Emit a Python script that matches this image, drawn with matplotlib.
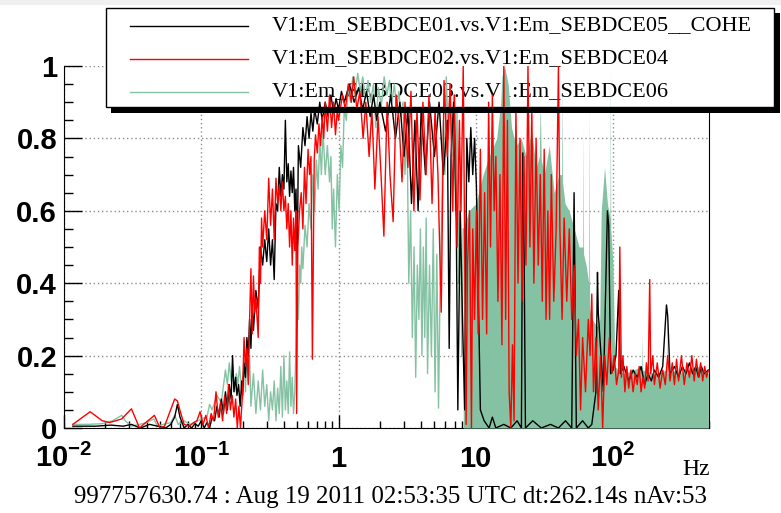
import matplotlib
matplotlib.use("Agg")
import matplotlib.pyplot as plt
import matplotlib.transforms as mtransforms
from matplotlib.patches import Rectangle
from matplotlib.lines import Line2D
from matplotlib.ticker import MultipleLocator, LogLocator, NullFormatter

plt.rcParams['mathtext.fontset'] = 'custom'
plt.rcParams['mathtext.rm'] = 'Liberation Sans:bold'
plt.rcParams['mathtext.bf'] = 'Liberation Sans:bold'
plt.rcParams['mathtext.it'] = 'Liberation Sans:bold'

# coherence E01 vs E05 (black)
black_f = [0.0116, 0.017, 0.022, 0.027, 0.031, 0.036, 0.042, 0.048, 0.055, 0.06,
           0.064, 0.067, 0.07, 0.075, 0.08, 0.085, 0.09, 0.095, 0.1, 0.105,
           0.11, 0.115, 0.12, 0.125, 0.13, 0.135, 0.14, 0.145, 0.15, 0.155,
           0.16, 0.165, 0.169, 0.173, 0.178, 0.182, 0.187, 0.192, 0.197, 0.2,
           0.205, 0.21, 0.215, 0.22, 0.225, 0.23, 0.235, 0.24, 0.25, 0.26,
           0.27, 0.28, 0.29, 0.3, 0.31, 0.32, 0.33, 0.34, 0.35, 0.36,
           0.37, 0.38, 0.39, 0.4, 0.41, 0.42, 0.43, 0.44, 0.45, 0.46,
           0.47, 0.48, 0.49, 0.5, 0.51, 0.53, 0.55, 0.57, 0.59, 0.61,
           0.63, 0.65, 0.67, 0.7, 0.73, 0.76, 0.8, 0.84, 0.88, 0.92,
           0.96, 1.0, 1.05, 1.1, 1.2, 1.3, 1.4, 1.5, 1.6, 1.7,
           1.8, 1.9, 2.0, 2.2, 2.4, 2.6, 2.8, 3.0, 3.2, 3.4,
           3.6, 3.8, 4.0, 4.3, 4.6, 5.0, 5.4, 5.8, 6.2, 6.4,
           6.6, 6.9, 7.2, 7.4, 7.7, 8.0, 8.3, 8.6, 8.9, 9.2,
           9.5, 9.8, 10.1, 10.4, 10.8, 11.5, 12.5, 13.2, 14, 16,
           18, 20, 21.5, 22, 22.5, 23, 26, 30, 35, 40,
           45, 50, 52, 53, 54, 60, 66, 70, 75, 77,
           78, 85, 91, 93, 96, 100, 105, 110, 113, 120,
           130, 140, 150, 160, 170, 180, 190, 200, 215, 230,
           245, 250, 260, 280, 300, 320, 340, 360, 380, 400,
           420, 440, 460, 495]
black_c = [0.005, 0.005, 0.008, 0.005, 0.01, 0.0, 0.01, 0.005, 0.0, 0.01,
           0.03, 0.065, 0.03, 0.0, 0.01, 0.0, 0.012, 0.005, 0.02, 0.0,
           0.015, 0.0, 0.03, 0.02, 0.06, 0.03, 0.08, 0.04, 0.1, 0.05,
           0.12, 0.08, 0.2, 0.1, 0.14, 0.09, 0.12, 0.06, 0.13, 0.09,
           0.18, 0.14, 0.25, 0.2, 0.3, 0.22, 0.34, 0.27, 0.38, 0.33,
           0.5, 0.45, 0.52, 0.46, 0.55, 0.45, 0.52, 0.41, 0.62, 0.6,
           0.72, 0.64, 0.7, 0.66, 0.85, 0.68, 0.73, 0.64, 0.71, 0.65,
           0.72, 0.6, 0.66, 0.45, 0.78, 0.72, 0.83, 0.78, 0.86, 0.8,
           0.87, 0.82, 0.88, 0.84, 0.9, 0.85, 0.9, 0.86, 0.92, 0.87,
           0.91, 0.88, 0.93, 0.9, 0.95, 0.9, 0.94, 0.88, 0.93, 0.86,
           0.92, 0.85, 0.9, 0.82, 0.92, 0.8, 0.9, 0.75, 0.88, 0.62,
           0.85, 0.6, 0.88, 0.7, 0.9, 0.75, 0.9, 0.7, 0.85, 0.22,
           0.75, 0.9, 0.58, 0.05, 0.6, 0.3, 0.05, 0.8, 0.68, 0.83,
           0.7, 0.8, 0.67, 0.4, 0.05, 0.02, 0.0, 0.03, 0.0, 0.01,
           0.0, 0.02, 0.0, 0.76, 0.47, 0.0, 0.02, 0.0, 0.01, 0.0,
           0.02, 0.0, 0.65, 0.33, 0.0, 0.02, 0.0, 0.01, 0.1, 0.43,
           0.32, 0.1, 0.6, 0.56, 0.15, 0.16, 0.2, 0.38, 0.15, 0.17,
           0.13, 0.16, 0.14, 0.17, 0.12, 0.15, 0.13, 0.16, 0.14, 0.17,
           0.34, 0.31, 0.15, 0.17, 0.14, 0.17, 0.15, 0.18, 0.15, 0.17,
           0.14, 0.17, 0.15, 0.16]

# coherence E02 vs E04 (red)
red_f = [0.0116, 0.0155, 0.019, 0.0215, 0.0263, 0.031, 0.0355, 0.038, 0.0456, 0.05,
         0.054, 0.064, 0.067, 0.071, 0.075, 0.082, 0.088, 0.093, 0.098, 0.103,
         0.108, 0.113, 0.118, 0.123, 0.128, 0.133, 0.138, 0.143, 0.148, 0.153,
         0.158, 0.163, 0.168, 0.173, 0.178, 0.183, 0.188, 0.193, 0.2, 0.205,
         0.21, 0.215, 0.22, 0.225, 0.23, 0.235, 0.24, 0.245, 0.25, 0.26,
         0.265, 0.27, 0.275, 0.28, 0.29, 0.3, 0.31, 0.32, 0.33, 0.34,
         0.35, 0.36, 0.37, 0.38, 0.39, 0.4, 0.41, 0.42, 0.43, 0.44,
         0.45, 0.46, 0.47, 0.48, 0.49, 0.495, 0.505, 0.52, 0.535, 0.55,
         0.565, 0.58, 0.6, 0.615, 0.63, 0.645, 0.665, 0.68, 0.7, 0.72,
         0.74, 0.76, 0.78, 0.8, 0.83, 0.86, 0.89, 0.92, 0.95, 0.98,
         1.0, 1.07, 1.12, 1.18, 1.24, 1.29, 1.36, 1.43, 1.51, 1.58,
         1.67, 1.75, 1.84, 1.94, 2.04, 2.14, 2.26, 2.37, 2.5, 2.63,
         2.76, 2.9, 3.05, 3.2, 3.37, 3.54, 3.73, 3.92, 4.12, 4.34,
         4.56, 4.8, 5.05, 5.3, 5.6, 5.87, 6.2, 6.5, 6.8, 7.0,
         7.3, 7.6, 7.8, 8.1, 8.3, 8.5, 8.7, 9.0, 9.3, 9.5,
         9.8, 10.1, 10.4, 10.8, 11.2, 11.6, 12.0, 12.4, 12.8, 13.2,
         13.6, 14.0, 14.5, 15.0, 15.5, 16.0, 16.5, 17.0, 17.5, 18.0,
         18.5, 19.0, 19.6, 20.3, 21.0, 21.7, 22.4, 23.2, 24.0, 24.8,
         25.6, 26.5, 27.5, 28.5, 29.5, 30.5, 31.5, 32.5, 33.5, 34.5,
         35.5, 37, 38.5, 40, 41, 42.5, 44, 46, 48, 50,
         52, 54, 56, 58, 60, 63, 66, 68, 70, 72,
         75, 78, 81, 84, 87, 90, 94, 98, 102, 106,
         110, 112, 115, 118, 122, 126, 130, 135, 140, 145,
         150, 155, 160, 165, 170, 175, 180, 185, 188, 195,
         200, 210, 220, 230, 240, 250, 260, 270, 280, 290,
         300, 315, 330, 345, 360, 375, 390, 405, 420, 435,
         450, 465, 480, 495]
red_c = [0.01, 0.045, 0.02, 0.015, 0.025, 0.053, 0.0, 0.01, 0.035, 0.0,
         0.005, 0.08, 0.075, 0.04, 0.01, 0.005, 0.015, 0.02, 0.045, 0.01,
         0.035, 0.0, 0.04, 0.02, 0.1, 0.03, 0.07, 0.02, 0.09, 0.04,
         0.12, 0.05, 0.09, 0.03, 0.08, 0.0, 0.06, 0.0, 0.1, 0.25,
         0.17, 0.22, 0.12, 0.3, 0.44, 0.26, 0.42, 0.32, 0.36, 0.25,
         0.5, 0.4, 0.58, 0.5, 0.6, 0.52, 0.69, 0.56, 0.66, 0.52,
         0.69, 0.62, 0.67, 0.6, 0.68, 0.6, 0.64, 0.55, 0.62, 0.5,
         0.6, 0.45, 0.58, 0.49, 0.6, 0.04, 0.5, 0.6, 0.65, 0.55,
         0.72, 0.62, 0.77, 0.7, 0.75, 0.19, 0.74, 0.81, 0.76, 0.84,
         0.78, 0.86, 0.8, 0.9, 0.82, 0.92, 0.83, 0.9, 0.81, 0.88,
         0.85, 0.92, 0.88, 0.95, 0.9, 0.97, 0.88, 0.93, 0.8, 0.9,
         0.75, 0.88, 0.66, 0.86, 0.7, 0.53, 0.9, 0.7, 0.57, 0.92,
         0.85, 0.68, 0.9, 0.72, 0.93, 0.6, 0.88, 0.63, 0.9, 0.7,
         0.92, 0.62, 0.88, 0.7, 0.32, 0.96, 0.75, 0.95, 0.6, 0.92,
         0.5, 0.85, 0.6, 1.0, 0.49, 0.01, 0.45, 0.6, 0.0, 0.55,
         0.3, 0.6, 0.26, 0.77, 0.3, 0.65, 0.26, 0.9, 0.5, 0.92,
         0.6, 0.75, 0.35, 0.7, 0.23, 1.0, 0.3, 0.85, 0.1, 0.0,
         0.23, 0.02, 0.88, 0.4, 0.8, 0.35, 0.75, 0.45, 1.0, 0.5,
         0.88, 0.4, 0.8, 0.45, 0.7, 0.35, 0.77, 0.3, 0.6, 0.3,
         0.7, 0.35, 0.55, 1.0, 0.55, 0.3, 0.58, 0.35, 0.55, 0.3,
         0.45, 0.2, 0.3, 0.05, 0.25, 0.1, 0.3, 0.2, 0.37, 0.1,
         0.25, 0.05, 0.2, 0.0, 0.2, 0.12, 0.25, 0.15, 0.2, 0.12,
         0.16, 0.5, 0.14, 0.2, 0.1, 0.17, 0.11, 0.16, 0.1, 0.15,
         0.12, 0.17, 0.1, 0.14, 0.11, 0.18, 0.13, 0.41, 0.15, 0.2,
         0.12, 0.18, 0.11, 0.16, 0.12, 0.2, 0.13, 0.18, 0.12, 0.19,
         0.13, 0.2, 0.12, 0.18, 0.14, 0.2, 0.13, 0.19, 0.14, 0.18,
         0.13, 0.17, 0.14, 0.16]

# coherence E03 vs E06 (green), line part below ~8 Hz
green_f = [0.0116, 0.015, 0.019, 0.0226, 0.0263, 0.028, 0.031, 0.0355, 0.04, 0.045,
           0.048, 0.053, 0.06, 0.064, 0.068, 0.075, 0.082, 0.09, 0.1, 0.11,
           0.115, 0.12, 0.13, 0.14, 0.15, 0.155, 0.16, 0.165, 0.17, 0.175,
           0.18, 0.185, 0.19, 0.2, 0.205, 0.21, 0.215, 0.22, 0.225, 0.23,
           0.24, 0.25, 0.26, 0.27, 0.28, 0.29, 0.3, 0.31, 0.32, 0.33,
           0.34, 0.35, 0.36, 0.37, 0.38, 0.39, 0.4, 0.41, 0.42, 0.43,
           0.44, 0.45, 0.46, 0.47, 0.48, 0.49, 0.5, 0.51, 0.52, 0.53,
           0.54, 0.55, 0.57, 0.59, 0.61, 0.63, 0.65, 0.67, 0.69, 0.71,
           0.73, 0.75, 0.77, 0.8, 0.83, 0.86, 0.88, 0.9, 0.92, 0.95,
           0.98, 1.01, 1.04, 1.07, 1.1, 1.14, 1.18, 1.22, 1.27, 1.32,
           1.38, 1.44, 1.5, 1.57, 1.64, 1.71, 1.8, 1.87, 1.95, 2.05,
           2.15, 2.25, 2.35, 2.45, 2.55, 2.65, 2.75, 2.85, 2.95, 3.05,
           3.15, 3.25, 3.35, 3.45, 3.55, 3.65, 3.75, 3.85, 3.95, 4.05,
           4.15, 4.25, 4.35, 4.45, 4.6, 4.75, 4.9, 5.05, 5.2, 5.35,
           5.5, 5.65, 5.8, 5.95, 6.1, 6.3, 6.5, 6.7, 6.9, 7.1,
           7.3, 7.5, 7.7, 7.9, 8.1]
green_c = [0.01, 0.01, 0.012, 0.02, 0.035, 0.02, 0.005, 0.01, 0.015, 0.025,
           0.005, 0.01, 0.015, 0.035, 0.01, 0.02, 0.01, 0.015, 0.025, 0.03,
           0.065, 0.05, 0.09, 0.07, 0.16, 0.12, 0.18, 0.13, 0.17, 0.1,
           0.15, 0.12, 0.17, 0.08, 0.19, 0.1, 0.24, 0.13, 0.2, 0.06,
           0.15, 0.04, 0.13, 0.05, 0.16, 0.06, 0.12, 0.02, 0.1, 0.05,
           0.13, 0.02, 0.11, 0.04, 0.17, 0.03, 0.2, 0.05, 0.13, 0.04,
           0.21, 0.06, 0.14, 0.04, 0.1, 0.23, 0.38, 0.3, 0.45, 0.4,
           0.5, 0.44, 0.56, 0.5, 0.62, 0.55, 0.7, 0.6, 0.74, 0.66,
           0.8, 0.7, 0.82, 0.7, 0.78, 0.68, 0.75, 0.55, 0.66, 0.5,
           0.7, 0.6, 0.78, 0.72, 0.88, 0.85, 0.95, 0.9, 0.97, 0.92,
           0.98, 0.93, 0.97, 0.91, 0.96, 0.9, 0.95, 0.83, 0.94, 0.89,
           0.97, 0.92, 0.96, 0.9, 0.95, 0.88, 0.93, 0.86, 0.9, 0.7,
           0.85, 0.4, 0.6, 0.25, 0.5, 0.14, 0.45, 0.3, 0.55, 0.2,
           0.5, 0.25, 0.58, 0.15, 0.45, 0.2, 0.55, 0.1, 0.48, 0.055,
           0.4, 0.6, 0.85, 0.7, 0.97, 0.8, 0.95, 0.75, 0.92, 0.6,
           0.88, 0.4, 0.7, 0.2, 0.55]

# green above ~8 Hz: dense band, upper edge
green_hf_f = [8.1, 8.9, 10.0, 11.3, 12.5, 14.2, 15.2, 15.5, 16.2, 17.2,
              18.2, 19.6, 21.4, 23.3, 25.4, 27.6, 29.0, 29.5, 30.0, 31.6,
              34.3, 37.2, 40.4, 42.2, 42.5, 42.8, 44.7, 47.9, 52.1, 56.6,
              60.2, 60.6, 61.0, 63.6, 66.5, 67.0, 67.5, 70.5, 76.6, 80,
              82, 86.7, 91, 95, 95.6, 96.2, 100, 103, 120, 140,
              162, 163, 164, 200, 245, 246, 248, 289, 290, 292,
              350, 424, 425, 427, 495]
green_hf_c = [0.55, 0.6, 0.62, 0.7, 0.75, 0.8, 0.9, 0.97, 1.0, 0.95,
              0.83, 0.78, 0.8, 0.75, 0.82, 0.72, 0.75, 0.9, 0.74, 0.7,
              0.78, 0.65, 0.7, 0.7, 0.96, 0.68, 0.62, 0.6, 0.55, 0.5,
              0.5, 0.83, 0.48, 0.45, 0.4, 0.9, 0.33, 0.3, 0.28, 0.3,
              0.6, 0.72, 0.62, 0.58, 0.99, 0.55, 0.45, 0.17, 0.15, 0.16,
              0.17, 0.26, 0.16, 0.15, 0.16, 0.33, 0.15, 0.16, 0.21, 0.15,
              0.16, 0.17, 0.2, 0.16, 0.15]

legend_labels = ["V1:Em_SEBDCE01.vs.V1:Em_SEBDCE05__COHE",
                 "V1:Em_SEBDCE02.vs.V1:Em_SEBDCE04",
                 "V1:Em_SEBDCE03.vs.V1:Em_SEBDCE06"]
GREEN = '#85c2a3'
legend_colors = ['black', 'red', GREEN]

y_ticks = [0, 0.2, 0.4, 0.6, 0.8, 1.0]
y_labels = ['0', '0.2', '0.4', '0.6', '0.8', '1']
x_ticks = [0.01, 0.1, 1, 10, 100]
x_labels = [r'$\mathbf{10^{-2}}$', r'$\mathbf{10^{-1}}$', '1', '10', r'$\mathbf{10^{2}}$']
footer = "997757630.74 : Aug 19 2011 02:53:35 UTC dt:262.14s nAv:53"

W, H = 781, 513
fig = plt.figure(figsize=(W / 100, H / 100), dpi=100)
ax = fig.add_axes([64 / W, 1 - 428 / H, 645 / W, 362 / H])

ax.plot(green_f, green_c, color=GREEN, lw=1.0, zorder=2)
ax.fill_between(green_hf_f, green_hf_c, color=GREEN, lw=0, zorder=2)
ax.plot(black_f, black_c, color='black', lw=1.0, zorder=3)
ax.plot(red_f, red_c, color='red', lw=1.0, zorder=4)

ax.set_xscale('log')
ax.set_xlim(0.01, 500)
ax.set_ylim(0, 1)
ax.set_axisbelow(True)
ax.grid(True, which='major', linestyle=(0, (1, 2)), color='#8c8c8c', lw=1)

ax.set_yticks(y_ticks)
ax.set_yticklabels(y_labels, fontsize=21, fontweight='bold', family='Liberation Sans')
ax.yaxis.set_minor_locator(MultipleLocator(0.05))
ax.xaxis.set_major_locator(LogLocator(base=10, numticks=10))
ax.xaxis.set_minor_locator(LogLocator(base=10, subs=range(2, 10), numticks=20))
ax.xaxis.set_minor_formatter(NullFormatter())
ax.tick_params(axis='y', which='major', direction='in', length=13, width=1, pad=5)
ax.tick_params(axis='y', which='minor', direction='in', length=6.5, width=1)
ax.tick_params(axis='x', which='major', direction='in', length=9.5, width=1, labelbottom=False)
ax.tick_params(axis='x', which='minor', direction='in', length=5, width=1)
ax.spines['top'].set_visible(False)
for sp in ax.spines.values():
    sp.set_zorder(0.8)

# x tick labels on a common baseline
trans = mtransforms.blended_transform_factory(ax.transData, ax.transAxes)
for v, s in zip(x_ticks, x_labels):
    ax.text(v, -0.108, s, transform=trans, ha='center', va='baseline',
            fontsize=21, fontweight='bold', family='Liberation Sans', clip_on=False)

# legend box sits below the curves, like in the original
ax.add_artist(Rectangle((106 / W, 1 - 107 / H), 668 / W, 99 / H, transform=fig.transFigure,
                        facecolor='white', edgecolor='black', lw=1, zorder=1, clip_on=False))
row_y = [26, 59, 92]
for lab, col, yy in zip(legend_labels, legend_colors, row_y):
    y = 1 - yy / H
    ax.add_artist(Line2D([130 / W, 248 / W], [y, y], transform=fig.transFigure,
                         color=col, lw=1, zorder=1.1, clip_on=False))
    ax.text(272 / W, y, lab, transform=fig.transFigure, ha='left', va='center',
            fontsize=16, family='Liberation Serif', zorder=1.1, clip_on=False)

# legend shadow
fig.add_artist(Rectangle((111 / W, 1 - 112.5 / H), 669 / W, 5 / H, transform=fig.transFigure,
                         facecolor='black', edgecolor='none', zorder=5))
fig.add_artist(Rectangle((774.5 / W, 1 - 112.5 / H), 5.5 / W, 99.5 / H, transform=fig.transFigure,
                         facecolor='black', edgecolor='none', zorder=5))
# light strip along the top edge
fig.add_artist(Rectangle((0, 1 - 5 / H), 1, 5 / H, transform=fig.transFigure,
                         facecolor='#f0f0f0', edgecolor='none', zorder=-1))

fig.text(710 / W, 1 - 475 / H, 'Hz', ha='right', va='baseline', fontsize=17, family='Liberation Serif')
fig.text(390 / W, 1 - 503 / H, footer, ha='center', va='baseline', fontsize=18, family='Liberation Serif')

fig.savefig('out.png', dpi=100)
